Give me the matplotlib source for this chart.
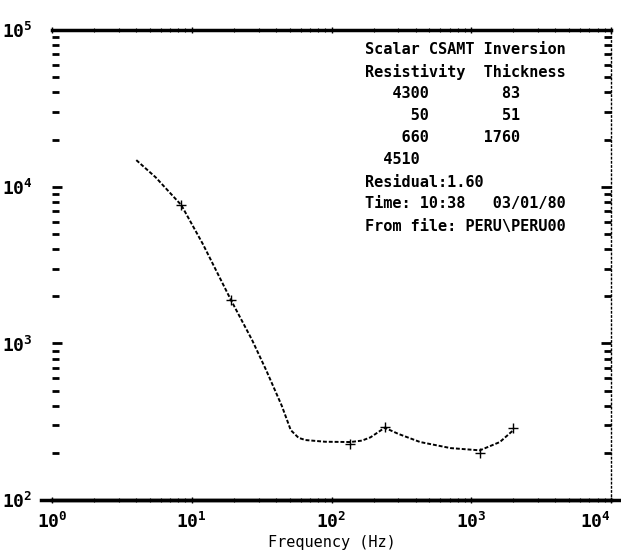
import numpy as np
import matplotlib
matplotlib.use("Agg")
import matplotlib.pyplot as plt
from matplotlib.ticker import LogLocator, NullFormatter

plt.rcParams['font.family'] = ['DejaVu Sans Mono', 'DejaVu Sans']
plt.rcParams['font.weight'] = 'bold'

#apparent resistivity curve
freq = [4.0, 5.5, 8.4, 12, 19, 27, 34, 44, 51, 58, 65, 90, 136, 165, 190, 240, 300, 430, 710, 1150, 1600, 2000]
rho = [14800, 11500, 7640, 4300, 1900, 1050, 676, 400, 280, 250, 242, 236, 235, 240, 252, 290, 265, 235, 215, 208, 235, 280]

#small cross marks along the curve
mark_freq = [8.4, 19, 136, 240, 1150, 2000]
mark_rho = [7640, 1900, 230, 295, 200, 290]

#model table
resistivity = [4300, 50, 660, 4510]
thickness = [83, 51, 1760]
residual = 1.60
run_time = "10:38"
run_date = "03/01/80"
source_file = "PERU\\PERU00"

x_ticks = [1, 10, 100, 1000, 10000]
x_labels = [r'$\mathregular{10^0}$', r'$\mathregular{10^1}$', r'$\mathregular{10^2}$', r'$\mathregular{10^3}$', r'$\mathregular{10^4}$']
y_ticks = [100, 1000, 10000, 100000]
y_labels = [r'$\mathregular{10^2}$', r'$\mathregular{10^3}$', r'$\mathregular{10^4}$', r'$\mathregular{10^5}$']

fig = plt.figure(figsize=(6.21, 5.57), dpi=100)
ax = fig.add_axes([0.084, 0.102, 0.900, 0.844])

ax.plot(freq, rho, color='black', lw=1.4, linestyle=(0, (2, 1)))
ax.plot(mark_freq, mark_rho, linestyle='none', marker='+', color='black', markersize=7, mew=1)

ax.set_xscale('log')
ax.set_yscale('log')
ax.set_xlim(1, 10000)
ax.set_ylim(100, 100000)

ax.set_xticks(x_ticks)
ax.set_xticklabels(x_labels, fontsize=13)
ax.set_yticks(y_ticks)
ax.set_yticklabels(y_labels, fontsize=13)
ax.xaxis.set_minor_locator(LogLocator(base=10, subs=np.arange(2, 10)))
ax.yaxis.set_minor_locator(LogLocator(base=10, subs=np.arange(2, 10)))
ax.xaxis.set_minor_formatter(NullFormatter())
ax.yaxis.set_minor_formatter(NullFormatter())

#last label sits at the page edge, keep it inside
ax.get_xticklabels()[-1].set_horizontalalignment('right')

ax.spines['left'].set_visible(False)
ax.spines['top'].set_linewidth(2.5)
ax.spines['bottom'].set_linewidth(2.5)
ax.spines['right'].set_linewidth(1)
ax.spines['right'].set_linestyle((0, (1, 2)))

ax.tick_params(axis='y', which='both', direction='in', left=True, right=True, length=7, width=2, pad=14)
ax.tick_params(axis='y', which='minor', length=5, width=2)
ax.tick_params(axis='x', which='major', direction='inout', top=True, bottom=True, length=5, width=1, pad=6)
ax.tick_params(axis='x', which='minor', direction='inout', top=True, bottom=True, length=3, width=0.8)

#bottom line runs a bit past the frame on the printout
ax.plot([-0.02, 1.015], [0, 0], transform=ax.transAxes, color='black', lw=2.5, clip_on=False)

ax.set_xlabel("Frequency (Hz)", fontsize=11, labelpad=2)

#model table in the top right
lines = ["Scalar CSAMT Inversion", "Resistivity  Thickness"]
for i, r in enumerate(resistivity):
    t = f"{thickness[i]:>10}" if i < len(thickness) else ""
    width = 6 if i == len(resistivity) - 1 else 7
    lines.append(f"{r:>{width}}{t}")
lines.append(f"Residual:{residual:.2f}")
lines.append(f"Time: {run_time}   {run_date}")
lines.append(f"From file: {source_file}")

y0 = 1 - 50 / 557
for i, line in enumerate(lines):
    fig.text(365 / 621, y0 - i * 22 / 557, line, fontsize=11, fontweight='bold', va='center', ha='left')

fig.savefig("out.png", dpi=100)
